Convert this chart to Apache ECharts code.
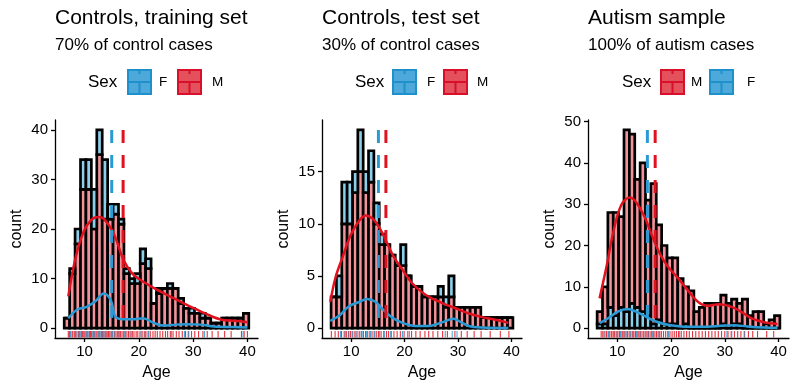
<!DOCTYPE html>
<html>
<head>
<meta charset="utf-8">
<script src="https://cdn.jsdelivr.net/npm/echarts@6/dist/echarts.min.js"></script>
<style>
  html, body { margin: 0; background: #fff; }
  #chart { width: 800px; height: 390px; }
</style>
</head>
<body>
<div id="chart"></div>
<script>
// bin centres (width 1 year) shared by the three panels
const binCentres = [6.75, 7.75, 8.75, 9.75, 10.75, 11.75, 12.75, 13.75, 14.75, 15.75, 16.75, 17.75,
  18.75, 19.75, 20.75, 21.75, 22.75, 23.75, 24.75, 25.75, 26.75, 27.75, 28.75, 29.75, 30.75, 31.75,
  32.75, 33.75, 34.75, 35.75, 36.75, 37.75, 38.75, 39.75];

// Controls, training set
const trainM = [2, 11, 17, 28, 28, 20, 35, 22, 22, 23, 21, 11, 9, 9, 13, 12, 5, 7, 8, 8, 8, 5, 4, 3, 3, 2, 2, 1, 1, 2, 2, 2, 2, 3];
const trainF = [0, 1, 3, 6, 6, 8, 5, 12, 3, 2, 1, 1, 1, 2, 3, 2, 0, 1, 0, 1, 0, 1, 0, 1, 0, 1, 0, 0, 0, 0, 0, 0, 0, 0];
const trainDensM = [[7.0, 6.4], [8.3, 14], [9.8, 19.4], [11.2, 21.8], [12.5, 22.4], [13.6, 22], [15.4, 19], [17.2, 13.7],
  [18.8, 11], [20.3, 9.7], [23.4, 7.7], [26.5, 6], [29.6, 4.3], [32.7, 2.7], [35.2, 1.7], [37.6, 1.5], [40.1, 1.2]];
const trainDensF = [[7.0, 2], [8.6, 3.7], [10.4, 4.3], [12, 5.4], [13.5, 7], [14.8, 5.7], [15.7, 2.3], [17.2, 1.8],
  [19, 1.8], [20.8, 2], [22.6, 1.1], [24.5, 0.5], [27, 0.7], [28.9, 0.8], [31.4, 0.7], [33.9, 0.3], [37.6, 0.2], [40, 0.1]];
const trainMeanM = 17.1;
const trainMeanF = 15.0;
const trainRugM = [7.0, 7.2, 7.5, 7.8, 8.1, 8.3, 8.6, 8.9, 9.1, 9.4, 9.6, 9.9, 10.1, 10.4, 10.6, 10.9, 11.1, 11.3,
  11.6, 11.8, 12.1, 12.3, 12.6, 12.8, 13.1, 13.3, 13.6, 13.9, 14.1, 14.4, 14.7, 15.0, 15.2, 15.5, 15.8, 16.1,
  16.3, 16.6, 16.9, 17.2, 17.5, 17.8, 18.1, 18.4, 18.8, 19.1, 19.5, 19.8, 20.2, 20.6, 21.0, 21.3, 21.7, 22.1,
  22.6, 23.0, 23.4, 23.9, 24.4, 24.9, 25.3, 25.8, 26.3, 26.9, 27.4, 28.0, 28.6, 29.1, 29.7, 30.3, 31.0, 31.8,
  32.6, 33.5, 34.6, 35.8, 37.0, 38.9, 39.4, 40.0];
const trainRugF = [7.4, 8.4, 9.0, 9.3, 9.8, 10.3, 10.8, 11.4, 11.9, 12.5, 13.0, 13.2, 13.5, 13.8, 14.2, 14.6,
  15.1, 15.6, 16.4, 17.3, 18.6, 20.4, 21.2, 21.8, 26.0, 28.4, 29.2, 32.1, 39.2];

// Controls, test set
const testM = [3, 3, 10, 10, 13, 15, 13, 14, 10, 8, 8, 7, 6, 6, 5, 4, 4, 3, 3, 3, 3, 2, 3, 2, 2, 2, 2, 2, 1, 1, 1, 1, 1, 1];
const testF = [0, 2, 4, 4, 2, 4, 2, 3, 2, 1, 0, 0, 0, 2, 0, 0, 0, 0, 0, 0, 1, 1, 2, 0, 0, 0, 0, 0, 0, 0, 0, 0, 0, 0];
const testDensM = [[6.1, 2.5], [7.1, 4.9], [8.4, 6.8], [9.9, 8.9], [11.5, 10.3], [12.7, 10.8], [14, 10.5], [15.2, 9.7],
  [16.5, 8.4], [18, 6.8], [19.6, 5.6], [21.4, 4.3], [23.9, 3.2], [27, 2.4], [29.5, 1.9], [32, 1.4], [34.5, 1.05],
  [37, 0.8], [39.4, 0.5]];
const testDensF = [[6.1, 0.7], [7.8, 1.2], [9.6, 2.1], [11.5, 2.5], [13, 2.8], [14.6, 2.5], [16.1, 1.7], [17.7, 1],
  [19.6, 0.5], [22, 0.2], [24.5, 0.2], [26.7, 0.5], [28.3, 0.8], [29.2, 0.9], [30.4, 0.6], [32, 0.2], [34.5, 0.05], [39.4, 0]];
const testMeanM = 16.5;
const testMeanF = 15.1;
const testRugM = [6.3, 7.0, 7.6, 8.2, 8.7, 9.1, 9.5, 9.9, 10.3, 10.7, 11.1, 11.5, 11.9, 12.3, 12.7, 13.1, 13.5,
  13.9, 14.3, 14.7, 15.1, 15.6, 16.1, 16.6, 17.0, 17.5, 18.0, 18.6, 19.2, 19.9, 20.6, 21.3, 22.1, 22.9, 23.8,
  24.5, 25.3, 26.2, 27.1, 28.0, 29.4, 30.6, 31.7, 33.0, 34.3, 36.0, 37.9, 39.5];
const testRugF = [8.0, 8.9, 9.6, 10.2, 10.9, 11.6, 12.2, 12.9, 13.6, 14.4, 15.3, 16.2, 17.4, 19.6, 20.9, 27.6, 28.9, 29.8];

// Autism sample
const autM = [3, 9, 23, 25, 22, 44, 41, 31, 36, 28, 34, 23, 19, 16, 16, 12, 9, 9, 4, 5, 6, 6, 6, 7, 6, 6, 5, 7, 3, 4, 4, 1, 2, 3];
const autF = [1, 1, 5, 3, 5, 4, 6, 5, 4, 3, 1, 2, 1, 1, 1, 0, 1, 0, 0, 0, 0, 0, 0, 1, 0, 1, 1, 0, 0, 0, 0, 0, 0, 0];
const autDensM = [[6.7, 7.2], [8, 14.9], [9.2, 22.9], [10.7, 29.7], [12.3, 31.6], [13.5, 30.5], [15.1, 26.9],
  [16.3, 22.9], [17.9, 18.1], [19.4, 14.9], [21.3, 12.1], [23.1, 9.2], [25, 6.4], [26.8, 5.4], [29, 5.8],
  [31.1, 5.2], [33, 4], [34.9, 2.4], [37.3, 1.4], [39.8, 1]];
const autDensF = [[6.7, 1.2], [8.3, 2.4], [10.1, 4], [11.9, 4.6], [13.5, 4], [15.4, 2.7], [17.2, 1.6], [19.4, 0.8],
  [21.9, 0.4], [25.6, 0.3], [29.9, 0.6], [31.8, 0.7], [34.2, 0.4], [37.3, 0.15], [39.8, 0.1]];
const autMeanM = 17.05;
const autMeanF = 15.6;
const autRugM = [7.0, 7.3, 7.7, 8.0, 8.3, 8.6, 8.9, 9.2, 9.5, 9.8, 10.1, 10.4, 10.7, 11.0, 11.3, 11.6, 11.9, 12.2,
  12.5, 12.8, 13.1, 13.4, 13.7, 14.0, 14.3, 14.6, 14.9, 15.2, 15.5, 15.8, 16.1, 16.4, 16.7, 17.0, 17.3, 17.6,
  17.9, 18.2, 18.6, 19.0, 19.4, 19.8, 20.2, 20.6, 21.0, 21.4, 21.9, 22.4, 22.9, 23.4, 24.0, 24.6, 25.2, 25.8,
  26.4, 27.0, 27.6, 28.2, 28.8, 29.4, 30.0, 30.6, 31.2, 31.8, 32.4, 33.0, 33.7, 34.4, 35.2, 36.1, 37.8, 39.1];
const autRugF = [7.5, 8.4, 9.3, 10.0, 10.6, 11.2, 11.8, 12.4, 13.0, 13.6, 14.2, 14.9, 15.7, 16.6, 17.8, 19.5,
  21.6, 30.4, 31.3, 33.6];

const xTicks = [10, 20, 30, 40];
const titles = ['Controls, training set', 'Controls, test set', 'Autism sample'];
const subtitles = ['70% of control cases', '30% of control cases', '100% of autism cases'];
const legendOrder = [['F', 'M'], ['F', 'M'], ['M', 'F']];
const yTicks = [[0, 10, 20, 30, 40], [0, 5, 10, 15], [0, 10, 20, 30, 40, 50]];
const yRanges = [[-2, 42], [-0.95, 19.95], [-2.4, 50.4]];

const RED = '#E0121F';
const BLUE = '#2A9AD5';
const PINK = '#F2939B';
const SKY = '#8CCFEA';
const BIN_WIDTH = 1;
const SANS = '"Liberation Sans", Arial, sans-serif';

const grids = [
  { left: 55, top: 120, width: 203, height: 218 },
  { left: 322, top: 120, width: 200, height: 218 },
  { left: 588, top: 120, width: 201, height: 218 },
];

const panels = [
  { M: trainM, F: trainF, densM: trainDensM, densF: trainDensF, meanM: trainMeanM, meanF: trainMeanF, rugM: trainRugM, rugF: trainRugF, bottom: 'M' },
  { M: testM, F: testF, densM: testDensM, densF: testDensF, meanM: testMeanM, meanF: testMeanF, rugM: testRugM, rugF: testRugF, bottom: 'M' },
  { M: autM, F: autF, densM: autDensM, densF: autDensF, meanM: autMeanM, meanF: autMeanF, rugM: autRugM, rugF: autRugF, bottom: 'F' },
];

function histSeries(i, counts, base, fill) {
  const data = binCentres.map((c, k) => [c, base ? base[k] : 0, (base ? base[k] : 0) + counts[k]]);
  return {
    type: 'custom', xAxisIndex: i, yAxisIndex: i, data, z: 2, silent: true,
    renderItem: (params, api) => {
      const c = api.value(0);
      const p0 = api.coord([c - BIN_WIDTH / 2, api.value(2)]);
      const p1 = api.coord([c + BIN_WIDTH / 2, api.value(1)]);
      return {
        type: 'rect',
        shape: { x: p0[0], y: p0[1], width: p1[0] - p0[0], height: p1[1] - p0[1] },
        style: { fill, stroke: '#000', lineWidth: 2.7 },
      };
    },
  };
}

function rugSeries(i, ages, color) {
  const yMin = yRanges[i][0];
  return {
    type: 'custom', xAxisIndex: i, yAxisIndex: i, data: ages.map((a) => [a, yMin]), z: 6, silent: true,
    renderItem: (params, api) => {
      const p = api.coord([api.value(0), api.value(1)]);
      return {
        type: 'line',
        shape: { x1: p[0], y1: p[1] - 0.5, x2: p[0], y2: p[1] - 7 },
        style: { stroke: color, lineWidth: 1.1, opacity: 0.85 },
      };
    },
  };
}

function lineSeries(i, data, color, dashed) {
  return {
    type: 'line', xAxisIndex: i, yAxisIndex: i, data, showSymbol: false, silent: true,
    smooth: dashed ? false : 0.35, z: dashed ? 5 : 4,
    lineStyle: { color, width: dashed ? 3 : 2.5, type: dashed ? [13, 12] : 'solid' },
  };
}

const series = [];
panels.forEach((p, i) => {
  const totals = p.M.map((m, k) => m + p.F[k]);
  const top = Math.max(...totals);
  if (p.bottom === 'M') {
    series.push(histSeries(i, p.M, null, PINK));
    series.push(histSeries(i, p.F, p.M, SKY));
  } else {
    series.push(histSeries(i, p.F, null, SKY));
    series.push(histSeries(i, p.M, p.F, PINK));
  }
  series.push(lineSeries(i, p.densM, RED, false));
  series.push(lineSeries(i, p.densF, BLUE, false));
  series.push(lineSeries(i, [[p.meanF, top], [p.meanF, 0]], BLUE, true));
  series.push(lineSeries(i, [[p.meanM, top], [p.meanM, 0]], RED, true));
  series.push(rugSeries(i, p.rugM, RED));
  series.push(rugSeries(i, p.rugF, BLUE));
});

const axisLine = { lineStyle: { color: '#000', width: 1.3 } };
const xAxes = grids.map((g, i) => ({
  type: 'value', gridIndex: i, min: 4.55, max: 41.95,
  name: 'Age', nameLocation: 'middle', nameGap: 27,
  nameTextStyle: { color: '#000', fontSize: 16, fontFamily: SANS },
  axisLine: { onZero: false, ...axisLine },
  axisTick: { length: 4, customValues: xTicks, lineStyle: { color: '#000', width: 1.3 } },
  axisLabel: { customValues: xTicks, color: '#000', fontSize: 15, fontFamily: SANS, margin: 6 },
  splitLine: { show: false },
}));
const yAxes = grids.map((g, i) => ({
  type: 'value', gridIndex: i, min: yRanges[i][0], max: yRanges[i][1],
  name: 'count', nameLocation: 'middle', nameGap: 30,
  nameTextStyle: { color: '#000', fontSize: 16, fontFamily: SANS },
  axisLine: { show: true, ...axisLine },
  axisTick: { show: true, length: 4, customValues: yTicks[i], lineStyle: { color: '#000', width: 1.3 } },
  axisLabel: { customValues: yTicks[i], color: '#000', fontSize: 15, fontFamily: SANS, margin: 7 },
  splitLine: { show: false },
}));

// titles and legends
const titleX = [55, 322, 588];
// [Sex text, key 1, label 1, key 2, label 2]
const legendX = [[88, 128, 159, 178, 212], [355, 393, 427, 444, 477], [622, 661, 691, 710, 747]];
const graphic = [];
function label(text, x, y, size) {
  return {
    type: 'text', x, y,
    style: { text, fill: '#000', font: `${size}px ${SANS}`, verticalAlign: 'middle', align: 'left' },
  };
}
titles.forEach((t, i) => {
  graphic.push(label(t, titleX[i], 18, 21));
  graphic.push(label(subtitles[i], titleX[i], 45, 17));
  const lx = legendX[i];
  graphic.push(label('Sex', lx[0], 82, 17));
  legendOrder[i].forEach((sex, j) => {
    const bx = lx[1 + j * 2];
    const stroke = sex === 'M' ? '#D8102A' : '#1E90CC';
    const fill = sex === 'M' ? '#E4505C' : '#4DA9D9';
    const w = 23;
    graphic.push({ type: 'rect', shape: { x: bx, y: 70, width: w, height: 24 }, style: { fill, stroke, lineWidth: 2 } });
    graphic.push({ type: 'line', shape: { x1: bx, y1: 82, x2: bx + w, y2: 82 }, style: { stroke, lineWidth: 2 } });
    graphic.push({ type: 'line', shape: { x1: bx + w / 2, y1: 82, x2: bx + w / 2, y2: 94 }, style: { stroke, lineWidth: 2 } });
    graphic.push({ type: 'line', shape: { x1: bx + w / 2, y1: 70, x2: bx + w / 2, y2: 74 }, style: { stroke, lineWidth: 2 } });
    graphic.push(label(sex, lx[2 + j * 2], 82, 13.5));
  });
});

const chart = echarts.init(document.getElementById('chart'), null, { renderer: 'canvas' });
chart.setOption({
  animation: false,
  backgroundColor: '#fff',
  grid: grids,
  xAxis: xAxes,
  yAxis: yAxes,
  series,
  graphic,
});
</script>
</body>
</html>
